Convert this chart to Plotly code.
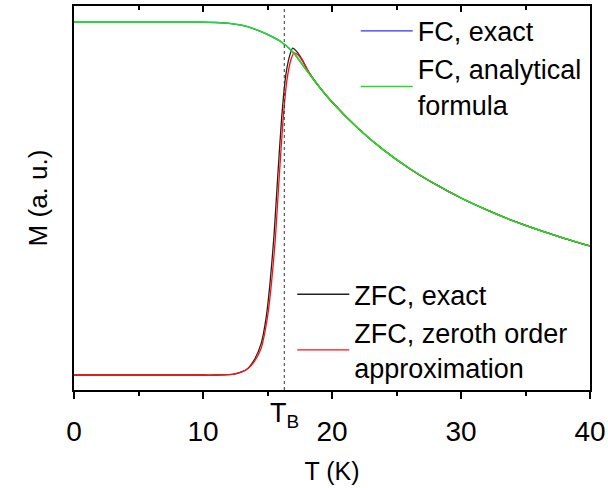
import plotly.graph_objects as go

# ---- data (M in arbitrary units) ----
T_fc = [0, 2, 4, 6, 8, 10, 11, 12, 13, 14, 15, 16, 17, 18, 19, 20, 22, 24, 26, 28, 30, 32, 34, 36, 38, 40]
M_fc_exact = [0.958, 0.958, 0.958, 0.958, 0.958, 0.958, 0.957, 0.955, 0.950, 0.940, 0.926, 0.908, 0.879, 0.834, 0.790, 0.750,
              0.682, 0.625, 0.577, 0.536, 0.500, 0.469, 0.441, 0.417, 0.395, 0.375]
M_fc_analytical = [0.958, 0.958, 0.958, 0.958, 0.958, 0.958, 0.957, 0.955, 0.950, 0.940, 0.926, 0.908, 0.879, 0.834, 0.790, 0.750,
                   0.682, 0.625, 0.577, 0.536, 0.500, 0.469, 0.441, 0.417, 0.395, 0.375]

T_zfc_exact = [0, 4, 8, 10, 11, 12, 12.5, 13, 13.5, 14, 14.5, 14.9, 15.2, 15.5, 15.8, 16.1, 16.4, 16.7, 16.95, 17.3, 17.7, 18.2, 19,
               20, 22, 24, 26, 28, 30, 32, 34, 36, 38, 40]
M_zfc_exact = [0.039, 0.039, 0.039, 0.039, 0.039, 0.040, 0.042, 0.047, 0.057, 0.080, 0.120, 0.190, 0.280, 0.400, 0.560, 0.710,
               0.815, 0.868, 0.890, 0.880, 0.860, 0.828, 0.790,
               0.750, 0.682, 0.625, 0.577, 0.536, 0.500, 0.469, 0.441, 0.417, 0.395, 0.375]

T_zfc_zero = [0, 4, 8, 10, 11, 12, 12.5, 13, 13.5, 14, 14.5, 15.0, 15.3, 15.6, 15.9, 16.2, 16.5, 16.8, 17.05, 17.4, 17.8, 18.3, 19,
              20, 22, 24, 26, 28, 30, 32, 34, 36, 38, 40]
M_zfc_zero = [0.039, 0.039, 0.039, 0.039, 0.039, 0.040, 0.042, 0.047, 0.056, 0.075, 0.108, 0.190, 0.275, 0.390, 0.550, 0.700,
              0.805, 0.858, 0.878, 0.872, 0.852, 0.823, 0.790,
              0.750, 0.682, 0.625, 0.577, 0.536, 0.500, 0.469, 0.441, 0.417, 0.395, 0.375]

T_B = 16.3
x_ticks = [0, 10, 20, 30, 40]
x_tick_labels = ["0", "10", "20", "30", "40"]

FONT = "Liberation Sans, Arial, sans-serif"

fig = go.Figure()

fig.add_trace(go.Scatter(x=T_fc, y=M_fc_exact, mode="lines", name="FC, exact",
                         line=dict(color="#3030ff", width=1.3, shape="spline", smoothing=0.6),
                         legend="legend"))
fig.add_trace(go.Scatter(x=T_zfc_exact, y=M_zfc_exact, mode="lines", name="ZFC, exact",
                         line=dict(color="#222222", width=1.3, shape="spline", smoothing=0.6),
                         legend="legend2"))
fig.add_trace(go.Scatter(x=T_zfc_zero, y=M_zfc_zero, mode="lines", name="ZFC, zeroth order<br>approximation",
                         line=dict(color="#ff1010", width=1.3, shape="spline", smoothing=0.6),
                         legend="legend2"))
fig.add_trace(go.Scatter(x=T_fc, y=M_fc_analytical, mode="lines", name="FC, analytical<br>formula",
                         line=dict(color="#22dd22", width=1.6, shape="spline", smoothing=0.6),
                         legend="legend"))
# helper trace so the mirrored top axis (inward ticks) is drawn
fig.add_trace(go.Scatter(x=[0, 40], y=[None, None], mode="lines", xaxis="x2", showlegend=False, hoverinfo="skip"))

# T_B dotted line
fig.add_vline(x=T_B, line=dict(color="#333333", width=1, dash="dot"))

fig.add_annotation(x=T_B, xref="x", y=0, yref="paper", yshift=-6, yanchor="top",
                   text="T<sub>B</sub>", showarrow=False, font=dict(family=FONT, size=27, color="black"))

fig.update_layout(
    width=608, height=488,
    margin=dict(l=74, r=18, t=6, b=98, autoexpand=False),
    plot_bgcolor="white", paper_bgcolor="white",
    font=dict(family=FONT, size=24, color="black"),
    xaxis=dict(range=[0, 40], tickvals=x_ticks, ticktext=x_tick_labels, automargin=False,
               showline=True, linecolor="black", linewidth=2,
               ticks="outside", ticklen=7, tickwidth=2, tickcolor="black",
               minor=dict(dtick=5, ticks="outside", ticklen=4, tickwidth=1.5, tickcolor="black"),
               showgrid=False, zeroline=False, ticklabelstandoff=8,
               title=dict(text="T (K)", standoff=17, font=dict(size=25)),
               tickfont=dict(size=28)),
    xaxis2=dict(range=[0, 40], overlaying="x", side="top", tickvals=x_ticks, showticklabels=False, automargin=False,
                showline=True, linecolor="black", linewidth=2,
                ticks="inside", ticklen=6, tickwidth=2, tickcolor="black",
                minor=dict(dtick=5, ticks="inside", ticklen=4, tickwidth=1.5, tickcolor="black"),
                showgrid=False, zeroline=False),
    yaxis=dict(range=[0, 1], showticklabels=False, ticks="", showline=True, linecolor="black", linewidth=2,
               mirror=True, showgrid=False, zeroline=False, automargin=False,
               title=dict(text="M (a. u.)", standoff=17, font=dict(size=26))),
    legend=dict(x=0.546, y=0.998, xanchor="left", yanchor="top", bgcolor="rgba(0,0,0,0)",
                font=dict(family=FONT, size=27), tracegroupgap=0, itemwidth=52),
    legend2=dict(x=0.423, y=0.312, xanchor="left", yanchor="top", bgcolor="rgba(0,0,0,0)",
                 font=dict(family=FONT, size=27), tracegroupgap=0, itemwidth=52),
)

fig.write_html("out.html", config={"displayModeBar": False},
               post_script="document.body.style.margin='0';")
